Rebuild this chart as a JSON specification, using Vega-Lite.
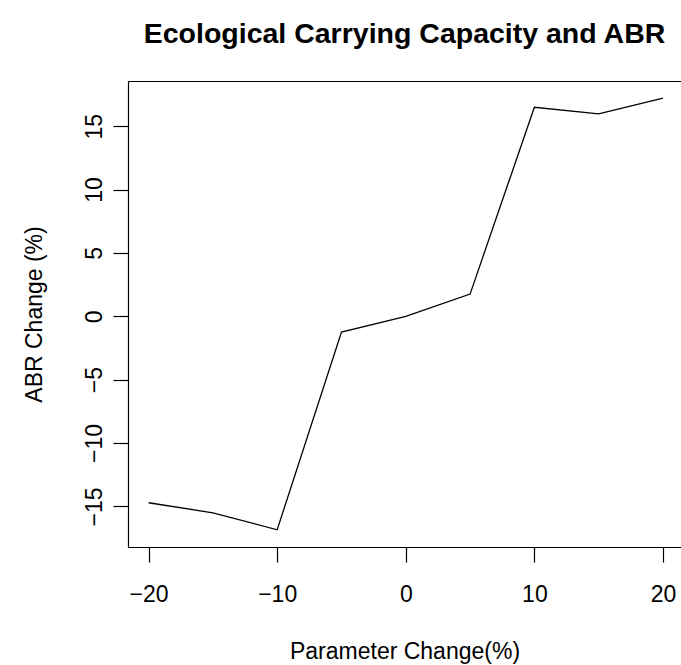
{
  "$schema": "https://vega.github.io/schema/vega-lite/v6.json",
  "width": 553,
  "height": 466,
  "autosize": {"type": "none"},
  "padding": {"left": 128, "top": 81, "right": 0, "bottom": 118},
  "background": "white",
  "title": {
    "text": "Ecological Carrying Capacity and ABR",
    "font": "Liberation Sans",
    "fontSize": 28.5,
    "fontWeight": "bold",
    "color": "black",
    "anchor": "middle",
    "offset": 33
  },
  "data": {
    "values": [
      {"param": -20, "abr": -14.71},
      {"param": -15, "abr": -15.5},
      {"param": -10, "abr": -16.84},
      {"param": -5, "abr": -1.24},
      {"param": 0, "abr": 0},
      {"param": 5, "abr": 1.75},
      {"param": 10, "abr": 16.49},
      {"param": 15, "abr": 15.97},
      {"param": 20, "abr": 17.2}
    ]
  },
  "encoding": {
    "y": {
      "field": "abr",
      "type": "quantitative",
      "scale": {"domain": [-18.2, 18.56], "nice": false, "zero": false},
      "axis": {
        "title": "ABR Change (%)",
        "values": [-15, -10, -5, 0, 5, 10, 15],
        "domain": true,
        "labelAngle": -90,
        "labelAlign": "center",
        "labelBaseline": "bottom",
        "labelPadding": 7,
        "titlePadding": 37
      }
    }
  },
  "layer": [
    {
      "mark": {"type": "line", "color": "black", "strokeWidth": 1.3},
      "encoding": {
        "x": {
          "field": "param",
          "type": "quantitative",
          "scale": {"domain": [-21.6, 21.4], "nice": false, "zero": false},
          "axis": {
            "title": "Parameter Change(%)",
            "orient": "bottom",
            "domain": true,
            "values": [-20, -10, 0, 10, 20],
            "titlePadding": 34,
            "labelPadding": 21
          }
        }
      }
    },
    {
      "mark": {"type": "line", "color": "black", "strokeOpacity": 0},
      "encoding": {
        "x": {
          "field": "param",
          "type": "quantitative",
          "axis": {
            "title": null,
            "orient": "top",
            "domain": true,
            "ticks": false,
            "labels": false
          }
        }
      }
    }
  ],
  "resolve": {"axis": {"x": "independent"}},
  "config": {
    "view": {"stroke": null},
    "axis": {
      "domain": true,
      "domainColor": "black",
      "domainWidth": 1.2,
      "grid": false,
      "ticks": true,
      "tickSize": 15,
      "tickColor": "black",
      "tickWidth": 1.2,
      "labelFont": "Liberation Sans",
      "labelFontSize": 23,
      "labelColor": "black",
      "labelOverlap": false,
      "labelFlush": false,
      "titleFont": "Liberation Sans",
      "titleFontSize": 23,
      "titleFontWeight": "normal",
      "titleColor": "black"
    }
  }
}
